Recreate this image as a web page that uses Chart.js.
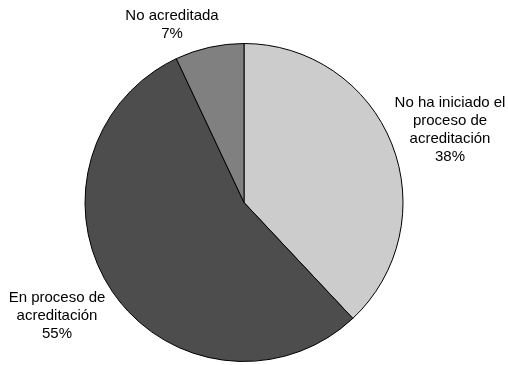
<!DOCTYPE html>
<html>
<head>
<meta charset="utf-8">
<script src="https://cdn.jsdelivr.net/npm/chart.js@4/dist/chart.umd.min.js"></script>
<style>
html,body{margin:0;padding:0;background:#fff;}
#wrap{width:508px;height:365px;position:relative;}
</style>
</head>
<body>
<div id="wrap"><canvas id="c" width="508" height="365"></canvas></div>
<script>
const categories = [
  ["No ha iniciado el", "proceso de", "acreditación"],
  ["En proceso de", "acreditación"],
  ["No acreditada"]
];
const values = [38, 55, 7];
const percentLabels = ["38%", "55%", "7%"];
const colors = ["#cccccc", "#4d4d4d", "#808080"];

// label anchor (center x, first baseline y) per slice
const labelAnchors = [
  {x: 450, y: 107},
  {x: 57, y: 302},
  {x: 172, y: 20}
];

const labelPlugin = {
  id: 'outsideLabels',
  afterDraw(chart) {
    const ctx = chart.ctx;
    ctx.save();
    ctx.font = '15px "Liberation Sans", Arial, sans-serif';
    ctx.fillStyle = '#000';
    ctx.textAlign = 'center';
    ctx.textBaseline = 'alphabetic';
    const lh = 18;
    categories.forEach((lines, i) => {
      const all = lines.concat([percentLabels[i]]);
      const a = labelAnchors[i];
      all.forEach((t, j) => ctx.fillText(t, a.x, a.y + j * lh));
    });
    ctx.restore();
  }
};

new Chart(document.getElementById('c'), {
  type: 'pie',
  data: {
    labels: categories.map(l => l.join(' ')),
    datasets: [{
      data: values,
      backgroundColor: colors,
      borderColor: '#000',
      borderWidth: 1
    }]
  },
  options: {
    responsive: false,
    animation: false,
    layout: {padding: {top: 43, bottom: 3, left: 0, right: 20}},
    plugins: {legend: {display: false}, tooltip: {enabled: false}}
  },
  plugins: [labelPlugin]
});
</script>
</body>
</html>
